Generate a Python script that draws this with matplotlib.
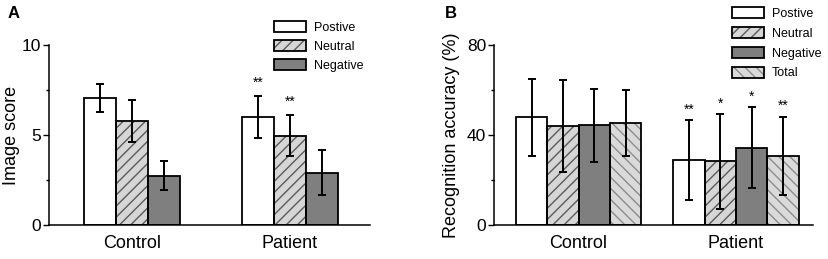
import matplotlib
matplotlib.use("Agg")
import matplotlib.pyplot as plt
from matplotlib.patches import Patch
import numpy as np

plt.rcParams['font.family'] = ['Liberation Sans', 'DejaVu Sans']
plt.rcParams['hatch.linewidth'] = 1.0

groups = ["Control", "Patient"]

# Panel A: Image score
a_series = ["Postive", "Neutral", "Negative"]
a_means = [[7.04, 5.80, 2.74],
           [5.98, 4.96, 2.89]]
a_errs = [[0.78, 1.17, 0.80],
          [1.17, 1.13, 1.25]]
a_stars = [["", "", ""],
           ["**", "**", ""]]

# Panel B: Recognition accuracy (%)
b_series = ["Postive", "Neutral", "Negative", "Total"]
b_means = [[47.9, 43.9, 44.3, 45.3],
           [28.9, 28.3, 34.4, 30.8]]
b_errs = [[17.2, 20.5, 16.2, 14.5],
          [17.8, 21.0, 18.0, 17.4]]
b_stars = [["", "", "", ""],
           ["**", "*", "*", "**"]]

styles = {
    "Postive": dict(fc="white", hatch=None, hc="white"),
    "Neutral": dict(fc="#d6d6d6", hatch="///", hc="#5a5a5a"),
    "Negative": dict(fc="#7f7f7f", hatch=None, hc="#7f7f7f"),
    "Total": dict(fc="#dadada", hatch="\\\\\\", hc="#8c8c8c"),
}

fig = plt.figure(figsize=(8.29, 2.59), dpi=100)
W, H = 829, 259


def draw_panel(rect, series, means, errs, stars, ylim, yticks, minor, ylabel,
               width, star_off, legend_anchor, legend_spacing, xpad, labx):
    ax = fig.add_axes(rect)
    x = np.arange(1, len(groups) + 1)
    n = len(series)
    handles = []
    for j, s in enumerate(series):
        st = styles[s]
        pos = x + (j - (n - 1) / 2) * width
        vals = [means[g][j] for g in range(len(groups))]
        ev = [errs[g][j] for g in range(len(groups))]
        ax.bar(pos, vals, width, color=st["fc"], hatch=st["hatch"],
               edgecolor=st["hc"], linewidth=0, zorder=2)
        ax.bar(pos, vals, width, fill=False, edgecolor="black",
               linewidth=1.3, zorder=3)
        ax.errorbar(pos, vals, yerr=ev, fmt="none", ecolor="black",
                    elinewidth=1.4, capsize=3.2, capthick=1.4, zorder=4)
        for g in range(len(groups)):
            if stars[g][j]:
                ax.annotate(stars[g][j], (pos[g], vals[g] + ev[g]),
                            xytext=(0, star_off), textcoords="offset points",
                            ha="center", va="center", fontsize=10)
        p1 = Patch(facecolor=st["fc"], hatch=st["hatch"], edgecolor=st["hc"],
                   linewidth=0)
        p2 = Patch(fill=False, edgecolor="black", linewidth=1.3)
        handles.append((p1, p2))
    ax.set_xlim(x[0] - xpad[0], x[-1] + xpad[1])
    ax.set_ylim(*ylim)
    ax.set_yticks(yticks)
    ax.set_yticks(minor, minor=True)
    ax.set_xticks(x)
    ax.set_xticklabels(groups, fontsize=13)
    ax.tick_params(axis="x", length=0, pad=7)
    ax.tick_params(axis="y", which="major", length=4, width=1, labelsize=12.5,
                   direction="out", pad=1.5)
    ax.tick_params(axis="y", which="minor", length=2.5, width=1,
                   direction="out")
    for sp in ["top", "right"]:
        ax.spines[sp].set_visible(False)
    for sp in ["left", "bottom"]:
        ax.spines[sp].set_linewidth(1.1)
    ax.set_ylabel(ylabel, fontsize=13)
    ax.yaxis.set_label_coords(labx, 0.5)
    ax.legend(handles, series, loc="upper left",
              bbox_to_anchor=legend_anchor, bbox_transform=fig.transFigure,
              frameon=False, fontsize=9, handlelength=2.6, handleheight=0.95,
              handletextpad=0.6, labelspacing=legend_spacing, borderpad=0,
              borderaxespad=0)
    return ax


ybot = 1 - 225 / H
ytop = 1 - 45 / H
axA = draw_panel([49 / W, ybot, (370 - 49) / W, ytop - ybot], a_series,
                 a_means, a_errs, a_stars, (0, 10), [0, 5, 10], [2.5, 7.5],
                 "Image score", 0.2025, 10, (274 / W, 1 - 21 / H), 0.5,
                 (0.525, 0.506), -29 / 321)
axB = draw_panel([494 / W, ybot, (813 - 494) / W, ytop - ybot], b_series,
                 b_means, b_errs, b_stars, (0, 80), [0, 40, 80], [20, 60],
                 "Recognition accuracy (%)", 0.199, 7.5,
                 (732 / W, 1 - 7 / H), 0.58, (0.537, 0.489), -34 / 319)

fig.text(8 / W, 1 - 14 / H, "A", fontsize=12, fontweight="bold",
         va="center", ha="left")
fig.text(445 / W, 1 - 14 / H, "B", fontsize=12, fontweight="bold",
         va="center", ha="left")

fig.savefig("out.png", dpi=100)
